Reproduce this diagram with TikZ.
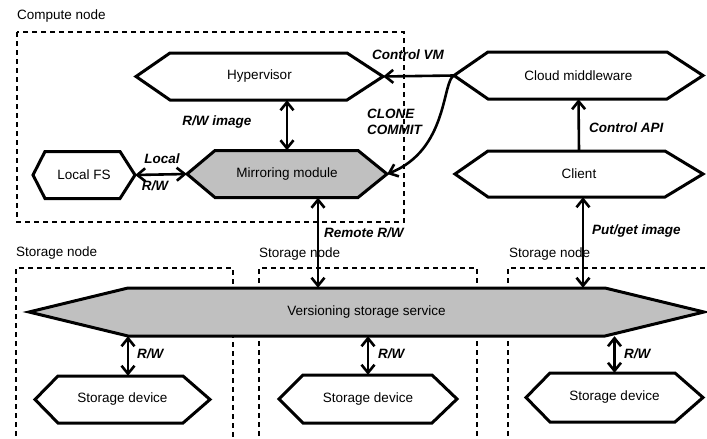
\documentclass[tikz,border=0pt]{standalone}
\usepackage{fontspec}
\setmainfont{Liberation Sans}
\usetikzlibrary{arrows.meta,calc}
\tikzset{
  hexline/.style={line width=3pt,line join=miter,draw=black},
  hexbody/.style={draw=none,inner sep=0pt,rectangle,font=\fontsize{13.5}{16}\selectfont},
  dashbox/.style={line width=2pt,dash pattern=on 5pt off 4pt},
  arr/.style={line width=2.6pt,>={Straight Barb[length=8pt,width=13pt]}},
  lab/.style={font=\fontsize{13.5}{16}\selectfont\bfseries\itshape,inner sep=0pt},
  title/.style={font=\fontsize{13.5}{16}\selectfont,inner sep=0pt,anchor=west},
}
\newcommand\hexbox[9]{%
  \path[hexline,fill=#8] ({#2-#4},#3) -- ({#2-#4+#6},{#3-#5}) -- ({#2+#4-#7},{#3-#5}) -- ({#2+#4},#3) -- ({#2+#4-#7},{#3+#5}) -- ({#2-#4+#6},{#3+#5}) -- cycle;
  \node[hexbody,minimum width={2*#4},minimum height={2*#5}] (#1) at (#2,#3) {#9};}
\definecolor{shade}{RGB}{192,192,192}
\begin{document}
\begin{tikzpicture}[x=1pt,y=-1pt]
\useasboundingbox (0,0) rectangle (707,439);
% dashed containers
\draw[dashbox] (17,32) rectangle (404,222);
\draw[dashbox] (16,445) -- (16,268) -- (233,268) -- (233,445);
\draw[dashbox] (259,445) -- (259,268) -- (477,268) -- (477,445);
\draw[dashbox] (508,445) -- (508,268) -- (712,268);
% titles
\node[title] (tcomp) at (17,16) {Compute node};
\node[title] (ts1) at (16,253) {Storage node};
\node[title] (ts2) at (259,254) {Storage node};
\node[title] (ts3) at (509,254) {Storage node};
% shapes
\hexbox{hyp}{259.5}{76.5}{123.5}{23.5}{34}{36}{white}{Hypervisor}
\hexbox{mir}{287}{174}{100}{23.5}{28}{29}{shade}{Mirroring module}
\hexbox{lfs}{84}{175}{51}{23.5}{12}{15}{white}{Local FS}
\hexbox{cm}{578.5}{75.5}{124.5}{23.5}{34}{36}{white}{Cloud middleware}
\hexbox{cl}{579}{174}{124}{23}{33}{38}{white}{Client}
\hexbox{vss}{366.5}{312}{337.5}{24}{99}{99}{shade}{Versioning storage service}
\hexbox{sda}{122.5}{399.5}{87.5}{23.5}{23}{27}{white}{Storage device}
\hexbox{sdb}{368}{399}{89}{24}{24}{25}{white}{Storage device}
\hexbox{sdc}{614.5}{397.5}{88.5}{24.5}{24}{28}{white}{Storage device}
% connectors
\draw[arr,<->] (mir.north |- hyp.south) -- (mir.north);
\draw[arr,<->] (lfs.east) -- (mir.west);
\draw[arr,->] (cm.west) -- (hyp.east);
\draw[arr,->] (cm.west) .. controls (442,82) and (448,150) .. (mir.east);
\draw[arr,->] (cl.north) -- (cm.south);
\coordinate (pg) at ($(cl.south)+(4,0)$);
\draw[arr,<->] (pg) -- (pg |- vss.north);
\coordinate (rr) at ($(mir.south)+(31,0)$);
\draw[arr,<->] (rr) -- (rr |- vss.north);
\coordinate (ra) at ($(sda.north)+(5.5,0)$);
\draw[arr,<->] (ra |- vss.south) -- (ra);
\draw[arr,<->] (sdb.north |- vss.south) -- (sdb.north);
\draw[arr,<->] (sdc.north |- vss.south) -- (sdc.north);
% labels
\node[lab] (lcvm) at (408,55) {Control VM};
\node[lab,anchor=west,align=left] (lcc) at (367,122) {CLONE\\COMMIT};
\node[lab,anchor=west] (lapi) at (589,128) {Control API};
\node[lab,anchor=west] (lpg) at (592,231) {Put/get image};
\node[lab,anchor=west] (lrr) at (324,233) {Remote R/W};
\node[lab] (lrwi) at (217,122) {R/W image};
\node[lab] (lloc) at (162,159) {Local};
\node[lab] (llrw) at (155,186) {R/W};
\node[lab,anchor=west] (lra) at (137,354) {R/W};
\node[lab,anchor=west] (lrb) at (378,354) {R/W};
\node[lab,anchor=west] (lrc) at (624,354) {R/W};
\end{tikzpicture}
\end{document}
